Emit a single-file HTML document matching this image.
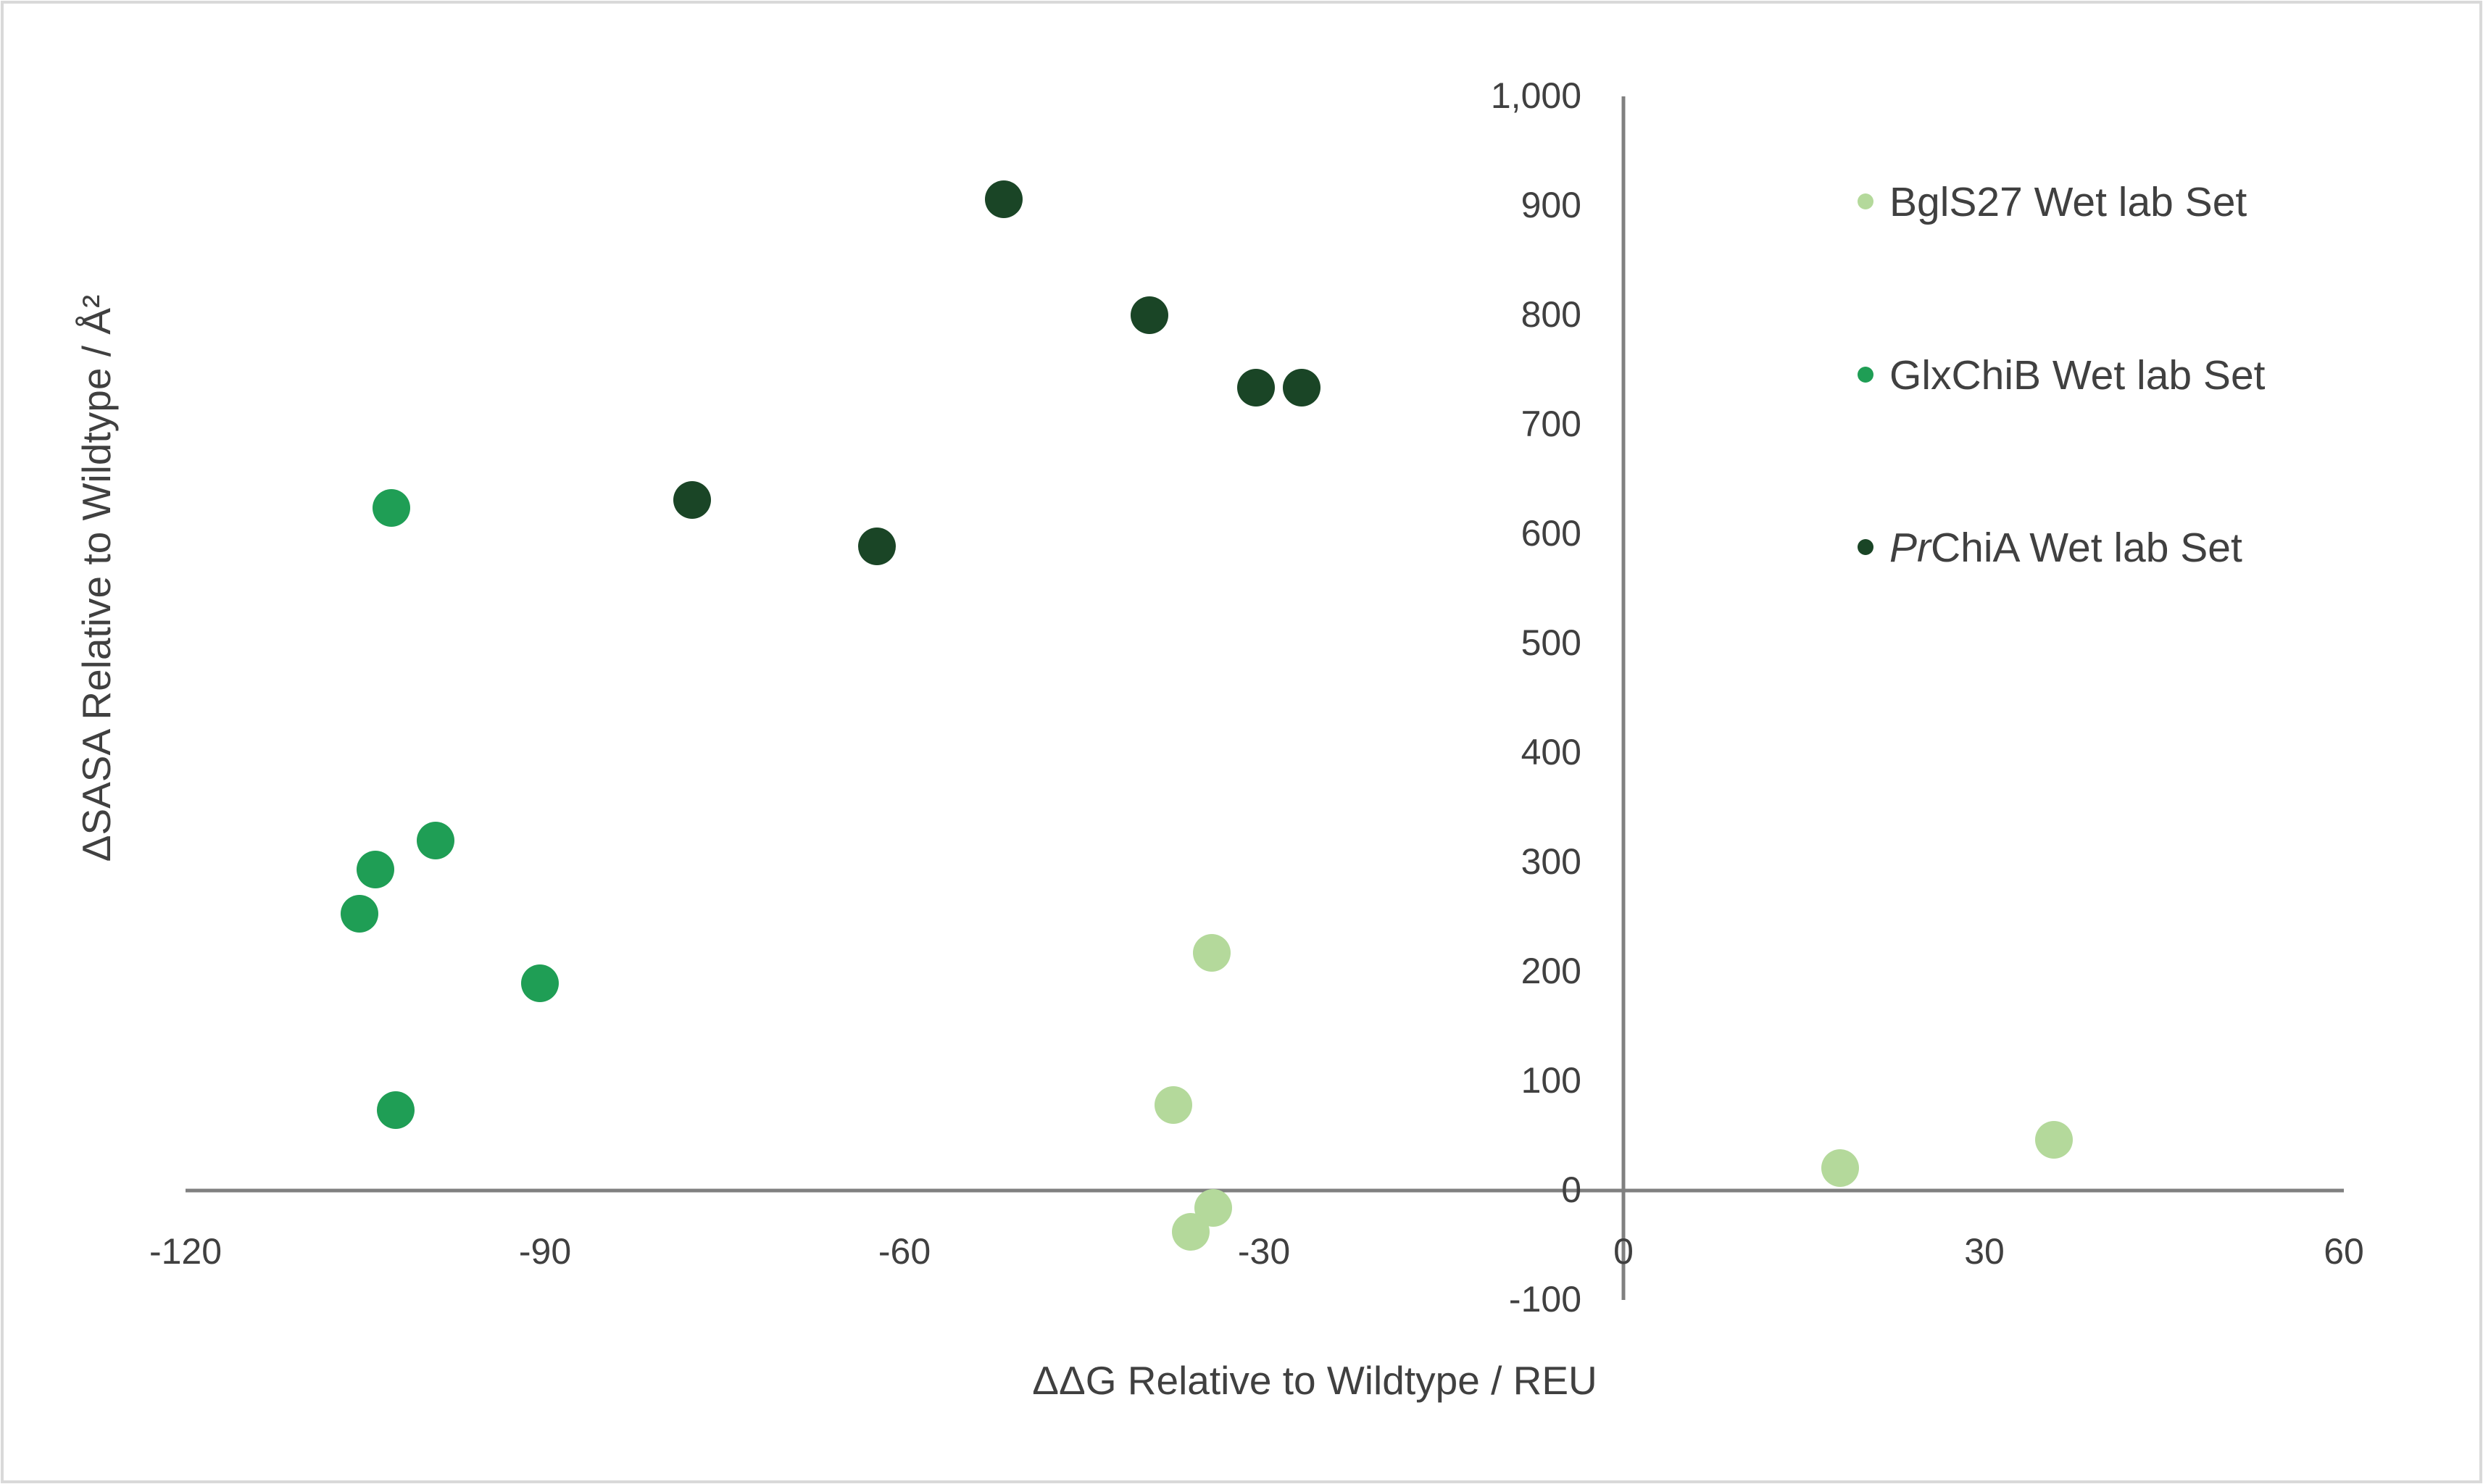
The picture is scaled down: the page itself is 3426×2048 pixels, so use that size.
<!DOCTYPE html>
<html><head><meta charset="utf-8"><style>
html,body{margin:0;padding:0;background:#fff}
svg{display:block}
text{font-family:"Liberation Sans",sans-serif;fill:#404040}
</style></head><body>
<svg width="3426" height="2048" viewBox="0 0 3426 2048" xmlns="http://www.w3.org/2000/svg">
<rect x="3" y="3" width="3420" height="2042" fill="#fff" stroke="#d9d9d9" stroke-width="4"/>
<line x1="256" y1="1643" x2="3234" y2="1643" stroke="#808080" stroke-width="5"/>
<line x1="2240" y1="133" x2="2240" y2="1794" stroke="#808080" stroke-width="5"/>
<g font-size="50" text-anchor="end">
<text x="2182" y="149">1,000</text>
<text x="2182" y="300">900</text>
<text x="2182" y="451">800</text>
<text x="2182" y="602">700</text>
<text x="2182" y="753">600</text>
<text x="2182" y="904">500</text>
<text x="2182" y="1055">400</text>
<text x="2182" y="1206">300</text>
<text x="2182" y="1357">200</text>
<text x="2182" y="1508">100</text>
<text x="2182" y="1659">0</text>
<text x="2182" y="1810">-100</text>
</g>
<g font-size="50" text-anchor="middle">
<text x="256" y="1744">-120</text>
<text x="752" y="1744">-90</text>
<text x="1248" y="1744">-60</text>
<text x="1744" y="1744">-30</text>
<text x="2240" y="1744">0</text>
<text x="2738" y="1744">30</text>
<text x="3234" y="1744">60</text>
</g>
<text x="1814" y="1924" font-size="55" text-anchor="middle">ΔΔG Relative to Wildtype / REU</text>
<text transform="translate(152,798) rotate(-90)" font-size="55" text-anchor="middle">ΔSASA Relative to Wildtype / Å²</text>
<g fill="#b4d99b">
<circle cx="1672" cy="1315" r="26"/><circle cx="1619" cy="1525" r="26"/>
<circle cx="2834" cy="1573" r="26"/><circle cx="2539" cy="1612" r="26"/>
<circle cx="1674" cy="1667" r="26"/><circle cx="1643" cy="1700" r="26"/>
</g>
<g fill="#1f9e55">
<circle cx="540" cy="701" r="26"/><circle cx="601" cy="1160" r="26"/>
<circle cx="518" cy="1200" r="26"/><circle cx="496" cy="1261" r="26"/>
<circle cx="745" cy="1357" r="26"/><circle cx="546" cy="1532" r="26"/>
</g>
<g fill="#1a4526">
<circle cx="1385" cy="275" r="26"/><circle cx="1586" cy="435" r="26"/>
<circle cx="1733" cy="535" r="26"/><circle cx="1796" cy="535" r="26"/>
<circle cx="955" cy="690" r="26"/><circle cx="1210" cy="754" r="26"/>
</g>
<circle cx="2574" cy="278" r="11" fill="#b4d99b"/>
<circle cx="2574" cy="517" r="11" fill="#1f9e55"/>
<circle cx="2574" cy="755" r="11" fill="#1a4526"/>
<g font-size="57">
<text x="2607" y="298">BglS27 Wet lab Set</text>
<text x="2607" y="537">GlxChiB Wet lab Set</text>
<text x="2607" y="775"><tspan font-style="italic">Pr</tspan>ChiA Wet lab Set</text>
</g>
</svg>
</body></html>
